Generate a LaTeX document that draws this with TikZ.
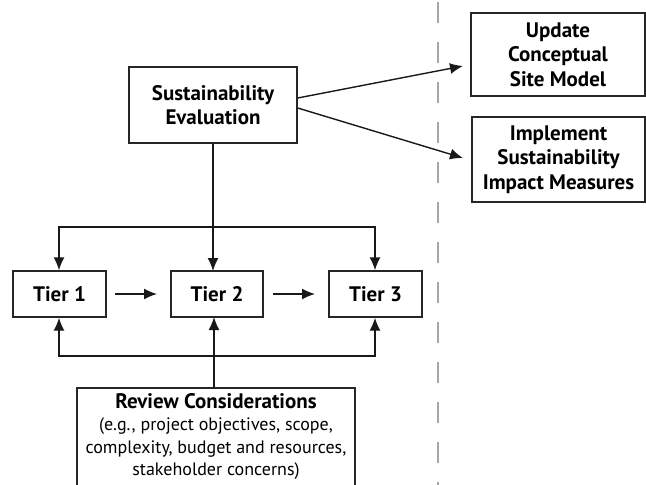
\documentclass[tikz,border=0pt]{standalone}
\usepackage{fontspec}
\setmainfont{PT Sans}
\usetikzlibrary{arrows.meta}
\begin{document}
\begin{tikzpicture}[x=1pt,y=-1pt,
  box/.style={draw=black!85,line width=1.4pt,fill=white,inner sep=0pt,align=center,
    font=\bfseries\fontsize{21}{24.5}\selectfont},
  conn/.style={line width=1.4pt,draw=black!90,-{Latex[length=13pt,width=11pt]}},
  plain/.style={line width=1.4pt,draw=black!90}]
\useasboundingbox (0,0) rectangle (646,485);
\draw[gray!70,line width=1.2pt,dash pattern=on 21pt off 19pt] (438,2) -- (438,485);
\node[box,minimum width=168pt,minimum height=76pt] (se) at (213,105) {Sustainability\\Evaluation};
\node[box,minimum width=174pt,minimum height=83pt] (up) at (558,54.5) {Update\\Conceptual\\Site Model};
\node[box,minimum width=173pt,minimum height=85pt] (im) at (558.5,159.5) {Implement\\Sustainability\\Impact Measures};
\node[box,minimum width=93pt,minimum height=46pt] (t1) at (59.5,294) {Tier 1};
\node[box,minimum width=92pt,minimum height=46pt] (t2) at (217,294) {Tier 2};
\node[box,minimum width=93pt,minimum height=46pt] (t3) at (375.5,294) {Tier 3};
\draw[line width=1.4pt,draw=black!85,fill=white] (77,388) rectangle (355,500);
\node[anchor=north,align=center,inner sep=0pt,font=\fontsize{18}{22.5}\selectfont] (rc) at (216,393)
  {{\bfseries\fontsize{21}{22.5}\selectfont Review Considerations}\\(e.g., project objectives, scope,\\complexity, budget and resources,\\stakeholder concerns)};
\coordinate (rtop) at (214,388);
\coordinate (ta) at (59,227);
\coordinate (tb) at (375,227);
\coordinate (ba) at (59,356);
\coordinate (bb) at (375,356);
% Sustainability to outputs
\draw[conn] (se.east |- 0,98) -- (463,66);
\draw[conn] (se.east |- 0,108) -- (463,158);
% top bracket
\draw[conn] (213,143) -- (213,271);
\draw[conn] (ta) -- (tb) -- (t3.north -| tb);
\draw[conn] (tb) -- (ta) -- (t1.north -| ta);
% horizontal tiers
\draw[conn] (115,294) -- (157,294);
\draw[conn] (273,294) -- (315,294);
% bottom bracket
\draw[conn] (rtop) -- (214,317);
\draw[conn] (ba) -- (bb) -- (t3.south -| bb);
\draw[conn] (bb) -- (ba) -- (t1.south -| ba);
\end{tikzpicture}
\end{document}
